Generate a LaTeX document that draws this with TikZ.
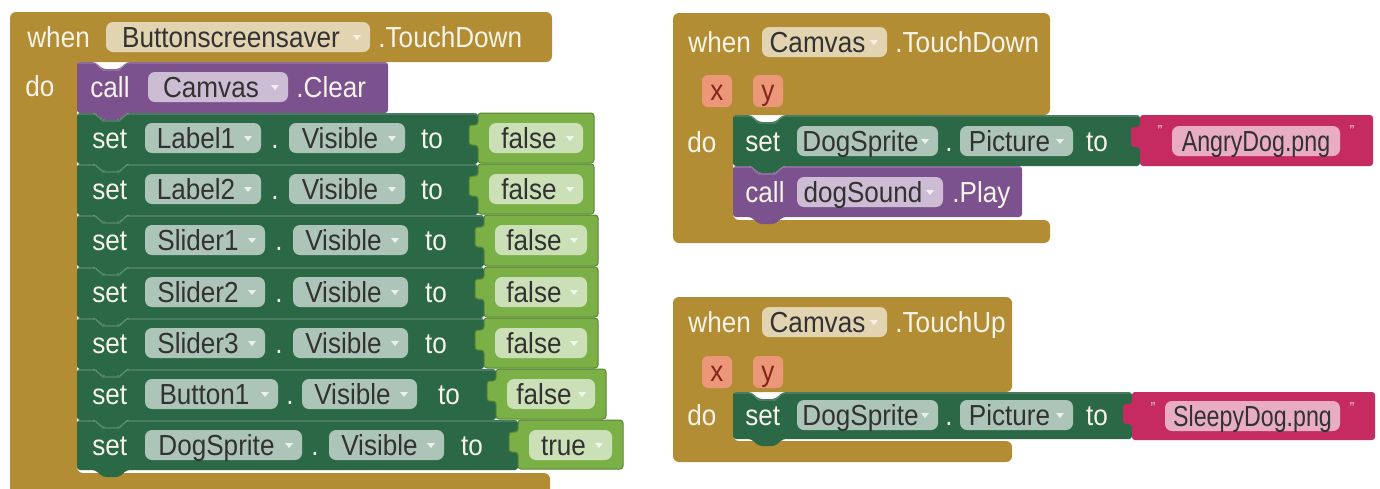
\documentclass[tikz,border=0pt]{standalone}
\usepackage{fontspec}
\setmainfont[FakeStretch=0.9]{Liberation Sans}
\newfontfamily\literalfont[FakeStretch=0.8]{Liberation Sans}

\definecolor{evtgold}{RGB}{179,141,52}
\definecolor{setgreen}{RGB}{42,104,70}
\definecolor{boolgreen}{RGB}{122,176,69}
\definecolor{callpurple}{RGB}{124,82,142}
\definecolor{strpink}{RGB}{197,42,97}
\definecolor{paramfill}{RGB}{236,152,120}
\definecolor{paramtext}{RGB}{128,38,28}
\definecolor{pilltextcol}{RGB}{50,50,50}
\definecolor{kwcol}{RGB}{246,244,234}

\tikzset{
  evt/.style={fill=evtgold},
  setblk/.style={fill=setgreen},
  callblk/.style={fill=callpurple},
  boolblk/.style={fill=boolgreen, draw=boolgreen!75!black, line width=0.5pt},
  strblk/.style={fill=strpink},
  hilite/.style={draw=white, draw opacity=.22, line width=0.6pt},
  pillbg/.style={fill=white, fill opacity=.62, rounded corners=3.5pt},
  blocktext/.style={inner sep=0pt, font=\fontsize{14.5}{16}\selectfont},
  pilltxt/.style={blocktext, text=pilltextcol},
  littxt/.style={inner sep=0pt, text=pilltextcol, font=\literalfont\fontsize{14.5}{16}\selectfont},
  kw/.style={blocktext, text=kwcol},
  ddarrow/.style={fill=white, fill opacity=.75},
  parambg/.style={fill=paramfill, rounded corners=3pt},
  paramtxt/.style={blocktext, text=paramtext},
  quotemark/.style={inner sep=0pt, text=white, text opacity=.75, font=\fontsize{8}{9}\selectfont},
}

% statement block with a notch on top and a tab below
% #1 style, #2 x1, #3 y1, #4 x2, #5 y2
\newcommand\stmtblk[5]{%
  \fill[#1, rounded corners=1.5pt] (#2,#3) -- (#2+18,#3) -- (#2+26,#3+7) -- (#2+42,#3+7) -- (#2+50,#3)
    -- (#4,#3) -- (#4,#5) -- (#2+50,#5) -- (#2+42,#5+7) -- (#2+26,#5+7) -- (#2+18,#5) -- (#2,#5) -- cycle;
  \draw[hilite] (#2+1,#3+1) -- (#2+18,#3+1) -- (#2+26,#3+8) -- (#2+42,#3+8) -- (#2+50,#3+1) -- (#4-1,#3+1);
}
% value block with its plug on the left
% #1 style, #2 xv, #3 xe, #4 top, #5 bottom
\newcommand\valblk[5]{%
  \path[#1, rounded corners=1.5pt] (#2,#4) -- (#3,#4) -- (#3,#5) -- (#2,#5) -- (#2,#4+32)
    -- (#2-9,#4+32) -- (#2-9,#4+12) -- (#2,#4+12) -- cycle;
}
% drop-down field: #1 name, #2 x1, #3 x2, #4 centre y, #5 text
\newcommand\ddpill[5]{%
  \fill[pillbg] (#2,#4-15) rectangle (#3,#4+15);
  \node[pilltxt, anchor=base] (#1) at ({(#2+#3-14)/2},#4+10) {#5};
  \fill[ddarrow] (#3-17,#4-2) -- (#3-9,#4-2) -- (#3-13,#4+3) -- cycle;
}
% text field of a string literal
\newcommand\plainpill[5]{%
  \fill[pillbg] (#2,#4-15) rectangle (#3,#4+15);
  \node[littxt, anchor=base] (#1) at ({(#2+#3)/2},#4+10) {#5};
}
% event parameter
\newcommand\parampill[5]{%
  \fill[parambg] (#2,#4-16) rectangle (#3,#4+16);
  \node[paramtxt, anchor=base] (#1) at ({(#2+#3)/2},#4+9) {#5};
}
% keyword, left aligned: #1 name, #2 x, #3 centre y, #4 text
\newcommand\kwtext[4]{\node[kw, anchor=base west] (#1) at (#2,#3+10) {#4};}
% keyword, centred
\newcommand\kwc[4]{\node[kw, anchor=base] (#1) at (#2,#3+10) {#4};}
% string literal: #1 name, #2 xv, #3 xe, #4 top, #5 bottom, #6 centre y, #7 pill x1, #8 pill x2, #9 text
\newcommand\strlit[9]{%
  \valblk{strblk}{#2}{#3}{#4}{#5}
  \node[quotemark] (#1l) at (#7-12,#4+16) {"};
  \node[quotemark] (#1r) at (#8+12,#4+16) {"};
  \plainpill{#1}{#7}{#8}{#6}{#9}
}

\begin{document}
\begin{tikzpicture}[x=0.5pt,y=-0.5pt]
\useasboundingbox (0,0) rectangle (1380,488);
\fill[white] (0,0) rectangle (1380,488);
\begin{scope}
\clip (0,0) rectangle (1380,488);

% ================= when Buttonscreensaver.TouchDown =================
\fill[evt, rounded corners=3pt] (10,500) -- (10,12) -- (552,12) -- (552,62) -- (77,62)
  -- (77,473) -- (550,473) -- (550,500) -- cycle;
\kwtext{w1}{27}{37}{when}
\ddpill{bss}{106}{370}{37}{Buttonscreensaver}
\kwtext{td1}{378}{37}{.TouchDown}
\kwtext{do1}{25}{86}{do}

\stmtblk{callblk}{77}{62}{388}{113}
\kwtext{cl1}{90}{87}{call}
\ddpill{cv1}{148}{288}{87}{Camvas}
\kwtext{clr}{296}{87}{.Clear}

% row 1
\stmtblk{setblk}{77}{113}{478}{164}
\kwtext{s1}{92}{138}{set}
\ddpill{o1}{145}{261}{138}{Label1}
\kwc{d1}{275}{138}{.}
\ddpill{p1}{289}{405}{138}{Visible}
\kwc{t1}{432}{138}{to}
\valblk{boolblk}{478}{594}{113}{163}
\ddpill{v1}{489}{583}{138}{false}

% row 2
\stmtblk{setblk}{77}{164}{478}{215}
\kwtext{s2}{92}{189}{set}
\ddpill{o2}{145}{261}{189}{Label2}
\kwc{d2}{275}{189}{.}
\ddpill{p2}{289}{405}{189}{Visible}
\kwc{t2}{432}{189}{to}
\valblk{boolblk}{478}{594}{164}{214}
\ddpill{v2}{489}{583}{189}{false}

% row 3
\stmtblk{setblk}{77}{215}{484}{267}
\kwtext{s3}{92}{240}{set}
\ddpill{o3}{145}{265}{240}{Slider1}
\kwc{d3}{279}{240}{.}
\ddpill{p3}{293}{408}{240}{Visible}
\kwc{t3}{436}{240}{to}
\valblk{boolblk}{484}{598}{215}{266}
\ddpill{v3}{495}{587}{240}{false}

% row 4
\stmtblk{setblk}{77}{267}{484}{318}
\kwtext{s4}{92}{292}{set}
\ddpill{o4}{145}{265}{292}{Slider2}
\kwc{d4}{279}{292}{.}
\ddpill{p4}{293}{408}{292}{Visible}
\kwc{t4}{436}{292}{to}
\valblk{boolblk}{484}{598}{267}{317}
\ddpill{v4}{495}{587}{292}{false}

% row 5
\stmtblk{setblk}{77}{318}{484}{369}
\kwtext{s5}{92}{343}{set}
\ddpill{o5}{145}{265}{343}{Slider3}
\kwc{d5}{279}{343}{.}
\ddpill{p5}{293}{408}{343}{Visible}
\kwc{t5}{436}{343}{to}
\valblk{boolblk}{484}{598}{318}{368}
\ddpill{v5}{495}{587}{343}{false}

% row 6
\stmtblk{setblk}{77}{369}{496}{420}
\kwtext{s6}{92}{394}{set}
\ddpill{o6}{145}{278}{394}{Button1}
\kwc{d6}{290}{394}{.}
\ddpill{p6}{302}{417}{394}{Visible}
\kwc{t6}{449}{394}{to}
\valblk{boolblk}{496}{606}{369}{419}
\ddpill{v6}{507}{595}{394}{false}

% row 7
\stmtblk{setblk}{77}{420}{518}{470}
\kwtext{s7}{92}{445}{set}
\ddpill{o7}{145}{302}{445}{DogSprite}
\kwc{d7}{315}{445}{.}
\ddpill{p7}{329}{444}{445}{Visible}
\kwc{t7}{472}{445}{to}
\valblk{boolblk}{518}{623}{420}{469}
\ddpill{v7}{529}{612}{445}{true}

% ================= when Camvas.TouchDown =================
\fill[evt, rounded corners=3pt] (673,13) -- (1050,13) -- (1050,115) -- (733,115)
  -- (733,220) -- (1050,220) -- (1050,243) -- (673,243) -- cycle;
\kwtext{w2}{688}{42}{when}
\ddpill{cv2}{762}{887}{42}{Camvas}
\kwtext{td2}{895}{42}{.TouchDown}
\parampill{px2}{702}{732}{91}{x}
\parampill{py2}{753}{783}{91}{y}
\kwtext{do2}{687}{142}{do}

\stmtblk{setblk}{733}{115}{1140}{166}
\kwtext{s8}{745}{141}{set}
\ddpill{o8}{797}{938}{141}{DogSprite}
\kwc{d8}{949}{141}{.}
\ddpill{p8}{960}{1073}{141}{Picture}
\kwc{t8}{1097}{141}{to}
\strlit{angry}{1140}{1373}{115}{166}{141}{1172}{1340}{AngryDog.png}

\stmtblk{callblk}{733}{166}{1022}{217}
\kwtext{cl2}{745}{192}{call}
\ddpill{snd}{797}{943}{192}{dogSound}
\kwtext{ply}{952}{192}{.Play}

% ================= when Camvas.TouchUp =================
\fill[evt, rounded corners=3pt] (673,297) -- (1012,297) -- (1012,392) -- (733,392)
  -- (733,441) -- (1012,441) -- (1012,462) -- (673,462) -- cycle;
\kwtext{w3}{688}{322}{when}
\ddpill{cv3}{762}{887}{322}{Camvas}
\kwtext{tu3}{895}{322}{.TouchUp}
\parampill{px3}{702}{732}{372}{x}
\parampill{py3}{753}{783}{372}{y}
\kwtext{do3}{687}{415}{do}

\stmtblk{setblk}{733}{392}{1132}{439}
\kwtext{s9}{745}{415}{set}
\ddpill{o9}{797}{938}{415}{DogSprite}
\kwc{d9}{949}{415}{.}
\ddpill{p9}{960}{1073}{415}{Picture}
\kwc{t9}{1097}{415}{to}
\strlit{sleepy}{1132}{1375}{392}{440}{416}{1165}{1340}{SleepyDog.png}

\end{scope}
\end{tikzpicture}
\end{document}
